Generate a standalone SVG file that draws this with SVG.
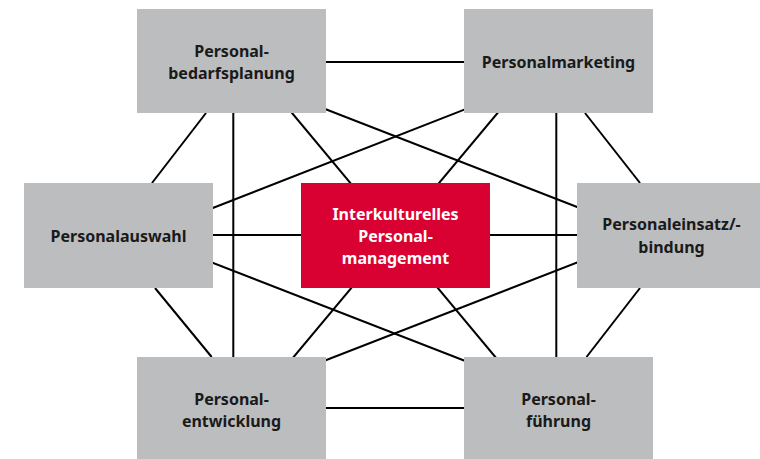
<svg xmlns="http://www.w3.org/2000/svg" width="760" height="459" viewBox="0 0 760 459">
<style>
.box{fill:#bcbdbf}
.core{fill:#d90032}
.lbl{font-family:"Noto Sans","Open Sans","Liberation Sans",sans-serif;font-weight:bold;font-size:16px;fill:#1a1a1a;text-anchor:middle}
.lbl.w{fill:#ffffff}
#connectors line{stroke:#000;stroke-width:2;stroke-linecap:butt}
</style>
<rect width="760" height="459" fill="#ffffff"/>
<g id="connectors">
<line x1="231" y1="62" x2="558" y2="62"/>
<line x1="231" y1="408" x2="558" y2="408"/>
<line x1="118" y1="235" x2="671" y2="235"/>
<line x1="233.3" y1="61" x2="233.3" y2="408"/>
<line x1="556.3" y1="61" x2="556.3" y2="408"/>
<line x1="206" y1="113" x2="152" y2="183"/>
<line x1="585" y1="113" x2="640" y2="183"/>
<line x1="155" y1="288" x2="211.7" y2="357"/>
<line x1="640" y1="288" x2="586.5" y2="357"/>
<line x1="231" y1="72.5" x2="671" y2="243.5"/>
<line x1="558" y1="73" x2="118" y2="245"/>
<line x1="231" y1="397" x2="671" y2="226"/>
<line x1="558" y1="397" x2="118" y2="226"/>
<line x1="248.7" y1="61" x2="537.8" y2="408"/>
<line x1="541" y1="61" x2="251" y2="408"/>
</g>
<g id="node-bedarfsplanung">
<rect class="box" x="137" y="9" width="189" height="104"/>
<text class="lbl" x="231.5" y="57">Personal-</text>
<text class="lbl" x="231.5" y="79.3">bedarfsplanung</text>
</g>
<g id="node-marketing">
<rect class="box" x="464" y="9" width="189" height="104"/>
<text class="lbl" x="558.5" y="68.3">Personalmarketing</text>
</g>
<g id="node-auswahl">
<rect class="box" x="24" y="183" width="189" height="105"/>
<text class="lbl" x="118.5" y="241.7">Personalauswahl</text>
</g>
<g id="node-center">
<rect class="core" x="301" y="183" width="189" height="105"/>
<text class="lbl w" x="395.5" y="219.5">Interkulturelles</text>
<text class="lbl w" x="395.5" y="241.8">Personal-</text>
<text class="lbl w" x="395.5" y="264">management</text>
</g>
<g id="node-einsatz">
<rect class="box" x="577" y="183" width="189" height="105"/>
<text class="lbl" x="671.5" y="230">Personaleinsatz/-</text>
<text class="lbl" x="671.5" y="253.3">bindung</text>
</g>
<g id="node-entwicklung">
<rect class="box" x="137" y="357" width="189" height="104"/>
<text class="lbl" x="231.5" y="405">Personal-</text>
<text class="lbl" x="231.5" y="427.3">entwicklung</text>
</g>
<g id="node-fuehrung">
<rect class="box" x="464" y="357" width="189" height="104"/>
<text class="lbl" x="558.5" y="405">Personal-</text>
<text class="lbl" x="558.5" y="427.3">führung</text>
</g>
</svg>
